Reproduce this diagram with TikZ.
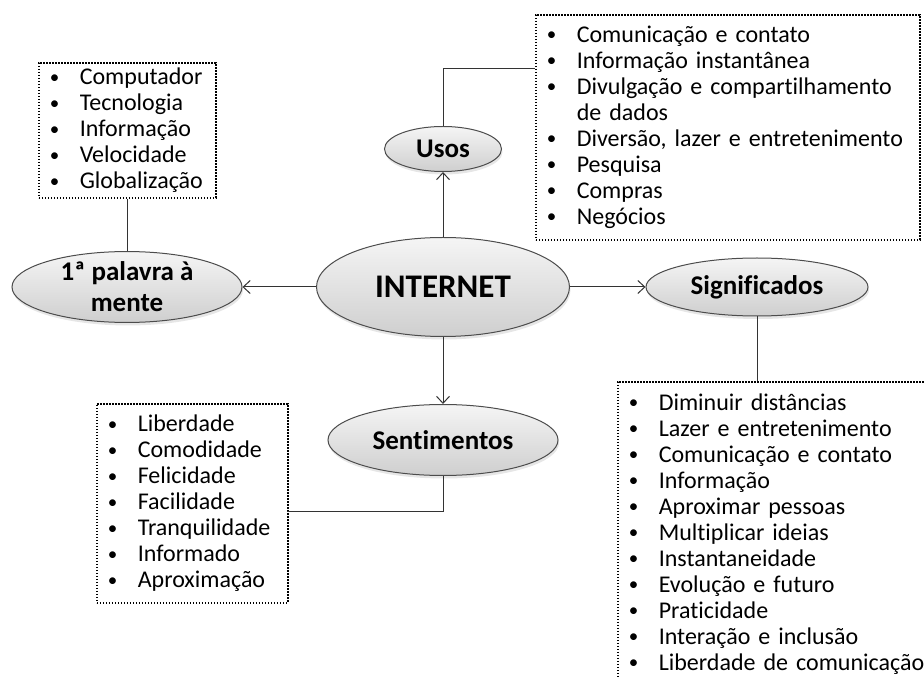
\documentclass[tikz,border=0pt]{standalone}
\usepackage{fontspec}
\setmainfont{Carlito}[Ligatures=NoCommon]
\usetikzlibrary{shapes.geometric, arrows, arrows.meta, positioning, shadows}
\tikzstyle{topic} = [ellipse, inner sep=0pt, draw=black!70, line width=1pt, top color=gray!8, bottom color=gray!38, drop shadow={opacity=0.2, shadow xshift=1pt, shadow yshift=-3pt}, font=\fontsize{27}{31}\selectfont\bfseries, align=center]
\tikzstyle{listbox} = [rectangle, draw=black, line width=1.6pt, dash pattern=on 1.6pt off 1.4pt, anchor=north west, align=left, inner xsep=11pt, inner ysep=0pt, font=\fontsize{24}{26}\selectfont]
\tikzstyle{arrow} = [line width=1pt, draw=black!80, -{Straight Barb[length=7pt, width=13pt]}]
\tikzstyle{link} = [line width=1pt, draw=black!80]
\newcommand{\itm}[1]{\makebox[30pt][l]{\raisebox{1.5pt}{\fontsize{19}{19}\selectfont\textbullet}}#1}
\newcommand{\cont}[1]{\hspace*{30pt}#1}

\begin{document}
\begin{tikzpicture}[x=1pt, y=1pt]
        \useasboundingbox (0,0) rectangle (924,678);

        \node (internet) [topic, minimum width=253pt, minimum height=99pt, font=\fontsize{33}{36}\selectfont\bfseries] at (443,391) {INTERNET};
        \node (usos) [topic, above of=internet, node distance=138pt, minimum width=117pt, minimum height=45pt] {Usos};
        \node (sentimentos) [topic, below of=internet, node distance=153pt, minimum width=230pt, minimum height=71pt] {Sentimentos};
        \node (significados) [topic, right of=internet, node distance=314pt, minimum width=222pt, minimum height=58pt] {Significados};
        \node (palavra) [topic, left of=internet, node distance=316pt, minimum width=230pt, minimum height=70pt] {1ª palavra à\\mente};

        % listas
        \node (palavralist) [listbox, text width=155pt, minimum height=135pt] at (38,616) {
            \itm{Computador}\\ \itm{Tecnologia}\\ \itm{Informação}\\ \itm{Velocidade}\\ \itm{Globalização}};
        \node (usoslist) [listbox, text width=362pt, minimum height=225pt] at (535,664) {
            \itm{Comunicação e contato}\\ \itm{Informação instantânea}\\
            \itm{Divulgação e compartilhamento}\\ \cont{de dados}\\
            \itm{Diversão, lazer e entretenimento}\\ \itm{Pesquisa}\\ \itm{Compras}\\ \itm{Negócios}};
        \node (sentlist) [listbox, text width=169pt, minimum height=199pt] at (96,275) {
            \itm{Liberdade}\\ \itm{Comodidade}\\ \itm{Felicidade}\\ \itm{Facilidade}\\
            \itm{Tranquilidade}\\ \itm{Informado}\\ \itm{Aproximação}};
        \node (signiflist) [listbox, text width=318pt, minimum height=304pt] at (617,297) {
            \itm{Diminuir distâncias}\\ \itm{Lazer e entretenimento}\\ \itm{Comunicação e contato}\\
            \itm{Informação}\\ \itm{Aproximar pessoas}\\ \itm{Multiplicar ideias}\\
            \itm{Instantaneidade}\\ \itm{Evolução e futuro}\\ \itm{Praticidade}\\
            \itm{Interação e inclusão}\\ \itm{Liberdade de comunicação}};

        \coordinate (usosjoin) at (535,609);
        \coordinate (sentjoin) at (287,166);

        \draw [arrow] (internet) -- (usos);
        \draw [arrow] (internet) -- (sentimentos);
        \draw [arrow] (internet) -- (significados);
        \draw [arrow] (internet) -- (palavra);

        \draw [link] (usos.north) |- (usosjoin);
        \draw [link] (sentimentos.south) |- (sentjoin);
        \draw [link] (palavra.north) -- (palavra.north |- palavralist.south);
        \draw [link] (significados.south) -- (significados.south |- signiflist.north);
    \end{tikzpicture}
\end{document}
